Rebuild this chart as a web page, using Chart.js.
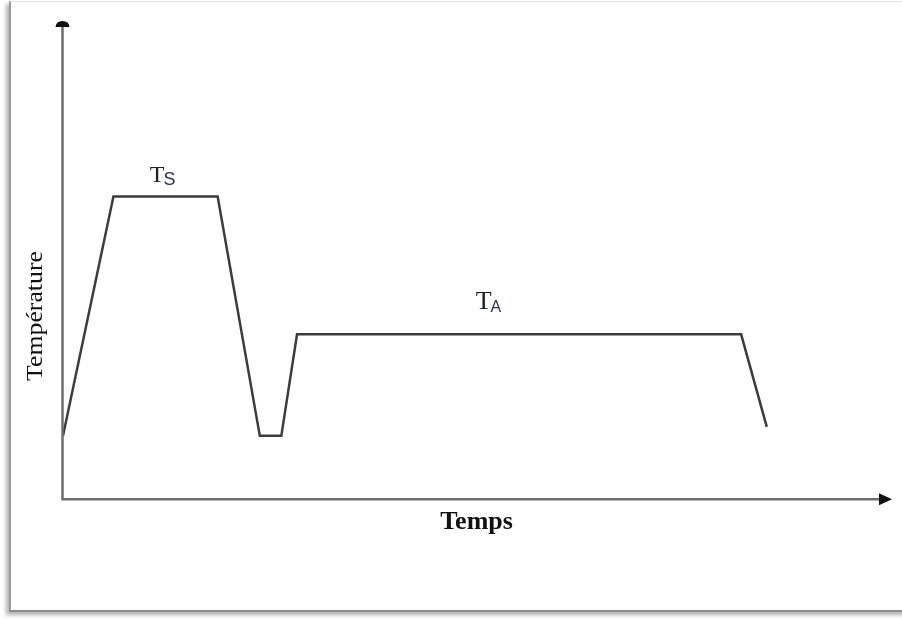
<!DOCTYPE html>
<html>
<head>
<meta charset="utf-8">
<script src="https://cdn.jsdelivr.net/npm/chart.js@4"></script>
<style>
  body { margin: 0; background: #fff; }
  #cadre {
    position: absolute; left: 9px; top: 1px; width: 920px; height: 608px;
    border-left: 2px solid #9a9a9a; border-top: 1px solid #e4e4e4; border-bottom: 2px solid #8c8c8c;
    box-shadow: -3px 3px 4px rgba(0, 0, 0, 0.3);
  }
  #graficoTraitement { position: absolute; left: 0; top: 0; }
</style>
</head>
<body>
<div id="cadre"></div>
<canvas id="graficoTraitement" width="902" height="619"></canvas>
<script>
// cycle thermique : temps (unités arbitraires) et température
var temps = [0, 6.1, 18.7, 23.8, 26.4, 28.3, 82, 85.1];
var temperature = [13.2, 63.4, 63.4, 13.2, 13.2, 34.5, 34.5, 15.1];
var paliers = [
  { lettre: "T", indice: "S", x: 10.5, y: 66.5 },
  { lettre: "T", indice: "A", x: 49.9, y: 39.8 },
];
var titreX = "Temps";
var titreY = "Température";

// axes avec flèches + annotations des paliers
const axesFleches = {
  id: "axesFleches",
  afterDraw(chart) {
    const c = chart.ctx;
    const a = chart.chartArea;
    const sx = chart.scales.x;
    const sy = chart.scales.y;
    c.save();
    c.strokeStyle = "#6e6e6e";
    c.lineWidth = 2.5;
    c.beginPath();
    c.moveTo(a.left - 0.5, a.top + 3);
    c.lineTo(a.left - 0.5, a.bottom + 0.5);
    c.lineTo(a.right - 9, a.bottom + 0.5);
    c.stroke();

    c.fillStyle = "#111";
    // flèche verticale (petit dôme)
    c.beginPath();
    c.moveTo(a.left - 7.5, a.top + 5);
    c.quadraticCurveTo(a.left - 7, a.top - 1, a.left - 0.5, a.top - 1);
    c.quadraticCurveTo(a.left + 6, a.top - 1, a.left + 6.5, a.top + 5);
    c.closePath();
    c.fill();
    // flèche horizontale
    c.beginPath();
    c.moveTo(a.right - 11, a.bottom - 5.5);
    c.lineTo(a.right + 2, a.bottom + 0.5);
    c.lineTo(a.right - 11, a.bottom + 6.5);
    c.closePath();
    c.fill();

    // titre vertical
    c.save();
    c.translate(a.left - 27, 316);
    c.rotate(-Math.PI / 2);
    c.scale(1.12, 1);
    c.font = "23px 'Liberation Serif'";
    c.fillStyle = "#111";
    c.textAlign = "center";
    c.textBaseline = "middle";
    c.fillText(titreY, 0, 0);
    c.restore();

    // T_S et T_A
    c.textBaseline = "alphabetic";
    c.textAlign = "left";
    paliers.forEach((p, i) => {
      const px = sx.getPixelForValue(p.x);
      const py = sy.getPixelForValue(p.y);
      c.fillStyle = "#222";
      c.font = (i === 0 ? "24px" : "26px") + " 'Liberation Serif'";
      c.fillText(p.lettre, px, py);
      const w = c.measureText(p.lettre).width;
      c.fillStyle = "#26324f";
      c.font = (i === 0 ? "18px" : "16px") + " 'Liberation Sans'";
      c.fillText(p.indice, px + w - 1, py + 3);
    });
    c.restore();
  },
};

function plotarCycle(idGrafico) {
  const ctx = document.getElementById(idGrafico).getContext("2d");
  let myChart = new Chart(ctx, {
    type: "line",
    data: {
      datasets: [
        {
          label: "Température",
          data: temps.map((t, i) => ({ x: t, y: temperature[i] })),
          borderColor: "#3c3c3c",
          borderWidth: 2.5,
          pointRadius: 0,
          tension: 0,
          fill: false,
        },
      ],
    },
    options: {
      responsive: false,
      animation: false,
      layout: { padding: { left: 63, right: 12, top: 22, bottom: 73 } },
      plugins: { legend: { display: false }, tooltip: { enabled: false } },
      scales: {
        x: {
          type: "linear",
          min: 0,
          max: 100,
          grid: { display: false },
          border: { display: false },
          ticks: { display: false, padding: 0 },
          title: {
            display: true,
            text: titreX,
            color: "#111",
            font: { family: "'Liberation Serif'", size: 26, weight: "bold" },
            padding: { top: 0, bottom: 8 },
          },
        },
        y: {
          display: false,
          min: 0,
          max: 100,
        },
      },
    },
    plugins: [axesFleches],
  });
  return myChart;
}

plotarCycle("graficoTraitement");
</script>
</body>
</html>
